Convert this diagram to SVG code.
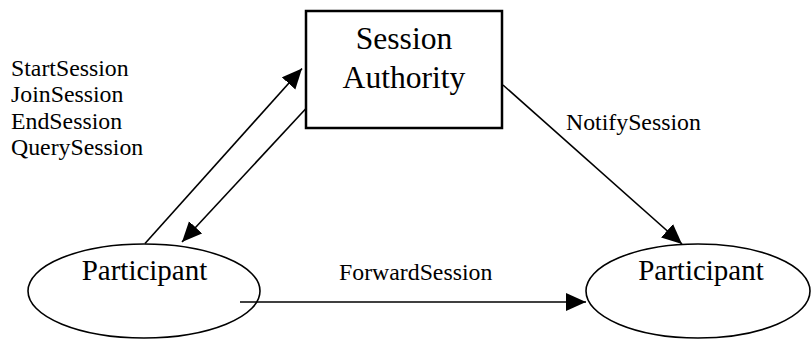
<svg xmlns="http://www.w3.org/2000/svg" width="811" height="339" viewBox="0 0 811 339">
  <style>
    .t { font-family: "Liberation Serif", "Times New Roman", serif; fill: #000; }
    .small { font-size: 23.8px; }
    .mid { font-size: 29px; text-anchor: middle; }
    .big { font-size: 31.6px; text-anchor: middle; }
    .box { fill: #fff; stroke: #000; stroke-width: 2.5; }
    .ell { fill: #fff; stroke: #000; stroke-width: 1.6; }
    .conn { fill: none; stroke: #000; stroke-width: 1.6; marker-end: url(#arrow); }
  </style>
  <defs>
    <marker id="arrow" markerUnits="userSpaceOnUse" markerWidth="22" markerHeight="20" refX="20" refY="9" orient="auto">
      <path d="M0,0 L20,9 L0,18 z" fill="#000"/>
    </marker>
  </defs>
  <rect width="811" height="339" fill="#fff"/>

  <g id="session-authority">
    <rect class="box" x="306" y="11" width="196" height="117"/>
    <text class="t big" x="404" y="49">Session</text>
    <text class="t big" x="404" y="87.5">Authority</text>
  </g>

  <g id="participant-left">
    <ellipse class="ell" cx="144" cy="291" rx="116" ry="47"/>
    <text class="t mid" x="144.5" y="280">Participant</text>
  </g>

  <g id="participant-right">
    <ellipse class="ell" cx="698" cy="291" rx="112" ry="47"/>
    <text class="t mid" x="701" y="280">Participant</text>
  </g>

  <g id="connectors">
    <line class="conn" x1="145" y1="243.5" x2="302" y2="68.5"/>
    <line class="conn" x1="306" y1="108.5" x2="182" y2="242"/>
    <line class="conn" x1="503" y1="85" x2="682" y2="244"/>
    <line class="conn" x1="240" y1="302" x2="586" y2="302"/>
  </g>

  <g id="labels">
    <text class="t small" x="11" y="75.5">StartSession</text>
    <text class="t small" x="11" y="102">JoinSession</text>
    <text class="t small" x="11" y="128.5">EndSession</text>
    <text class="t small" x="11" y="155">QuerySession</text>
    <text class="t small" x="566" y="130">NotifySession</text>
    <text class="t small" x="339" y="280">ForwardSession</text>
  </g>
</svg>
